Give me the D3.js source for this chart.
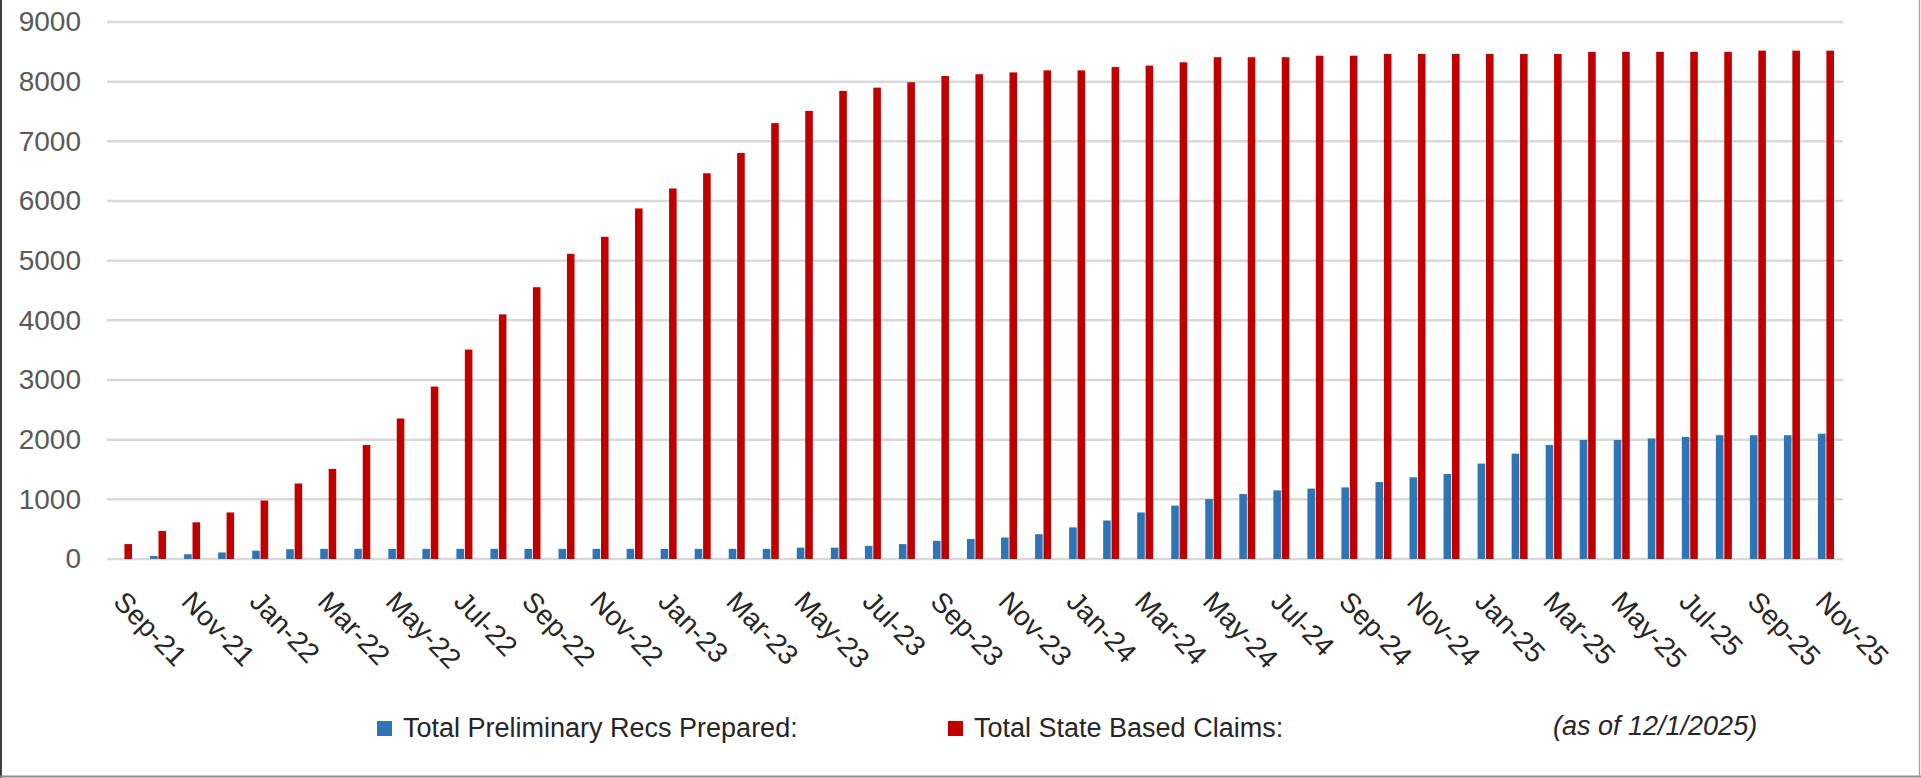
<!DOCTYPE html>
<html>
<head>
<meta charset="utf-8">
<script src="https://cdn.jsdelivr.net/npm/d3@7"></script>
<style>
  body { margin: 0; background: #fff; }
  svg { display: block; }
  .ylab text { fill: #595959; }
  .xlab text { fill: #262626; }
  text { font-family: "Liberation Sans", Arial, sans-serif; }
</style>
</head>
<body>
<div id="vis"></div>
<script>
const FRAME_WIDTH = 1921;
const FRAME_HEIGHT = 778;
const MARGINS = {left: 107, right: 78, top: 22, bottom: 219};

const months = ["Sep-21","Oct-21","Nov-21","Dec-21",
  "Jan-22","Feb-22","Mar-22","Apr-22","May-22","Jun-22","Jul-22","Aug-22","Sep-22","Oct-22","Nov-22","Dec-22",
  "Jan-23","Feb-23","Mar-23","Apr-23","May-23","Jun-23","Jul-23","Aug-23","Sep-23","Oct-23","Nov-23","Dec-23",
  "Jan-24","Feb-24","Mar-24","Apr-24","May-24","Jun-24","Jul-24","Aug-24","Sep-24","Oct-24","Nov-24","Dec-24",
  "Jan-25","Feb-25","Mar-25","Apr-25","May-25","Jun-25","Jul-25","Aug-25","Sep-25","Oct-25","Nov-25"];

// Total Preliminary Recs Prepared
const recs = [0, 50, 80, 110, 140, 165, 170, 170, 170, 170,
  170, 170, 170, 170, 170, 170, 170, 170, 170, 170,
  190, 190, 220, 250, 305, 335, 360, 415, 530, 645,
  780, 895, 1005, 1090, 1150, 1180, 1200, 1290, 1370, 1425,
  1600, 1765, 1910, 1995, 1995, 2020, 2045, 2075, 2075, 2075, 2100];

// Total State Based Claims
const claims = [250, 470, 615, 780, 980, 1265, 1510, 1910, 2355, 2890,
  3510, 4100, 4555, 5115, 5400, 5875, 6210, 6465, 6805, 7305,
  7510, 7845, 7900, 7990, 8095, 8125, 8155, 8190, 8190, 8245,
  8270, 8325, 8410, 8410, 8410, 8435, 8435, 8465, 8465, 8465,
  8465, 8465, 8465, 8500, 8500, 8500, 8500, 8500, 8520, 8520, 8520];

const tickLabels = ["Sep-21","Nov-21","Jan-22","Mar-22","May-22","Jul-22","Sep-22","Nov-22",
  "Jan-23","Mar-23","May-23","Jul-23","Sep-23","Nov-23","Jan-24","Mar-24","May-24","Jul-24",
  "Sep-24","Nov-24","Jan-25","Mar-25","May-25","Jul-25","Sep-25","Nov-25"];
const yTicks = [0, 1000, 2000, 3000, 4000, 5000, 6000, 7000, 8000, 9000];

const seriesNames = ["Total Preliminary Recs Prepared:", "Total State Based Claims:"];
const seriesColors = ["#2E75B6", "#C00000"];
const note = "(as of 12/1/2025)";

const VIS_WIDTH = FRAME_WIDTH - MARGINS.left - MARGINS.right;
const VIS_HEIGHT = FRAME_HEIGHT - MARGINS.top - MARGINS.bottom;

const rows = months.map((m, i) => ({month: m, values: [recs[i], claims[i]]}));

const FRAME = d3.select("#vis")
  .append("svg")
    .attr("width", FRAME_WIDTH)
    .attr("height", FRAME_HEIGHT);

// outer frame lines
FRAME.append("line").attr("x1", 1).attr("x2", 1).attr("y1", 0).attr("y2", FRAME_HEIGHT)
  .attr("stroke", "#404040").attr("stroke-width", 2);
FRAME.append("line").attr("x1", 0).attr("x2", FRAME_WIDTH).attr("y1", 776.5).attr("y2", 776.5)
  .attr("stroke", "#8c8c8c").attr("stroke-width", 2);
FRAME.append("line").attr("x1", 1919.5).attr("x2", 1919.5).attr("y1", 0).attr("y2", FRAME_HEIGHT)
  .attr("stroke", "#a6a6a6").attr("stroke-width", 1.5);

const X_SCALE = d3.scaleBand()
  .domain(months)
  .range([0, VIS_WIDTH])
  .paddingInner(0.53)
  .paddingOuter(0.265);

const X_INNER = d3.scaleBand()
  .domain([0, 1])
  .range([0, X_SCALE.bandwidth()])
  .paddingInner(0.1);

const Y_SCALE = d3.scaleLinear()
  .domain([0, 9000])
  .range([VIS_HEIGHT, 0]);

const G = FRAME.append("g")
  .attr("transform", "translate(" + MARGINS.left + "," + MARGINS.top + ")");

// gridlines
G.append("g")
  .selectAll("line")
  .data(yTicks)
  .enter()
  .append("line")
    .attr("x1", 0)
    .attr("x2", VIS_WIDTH)
    .attr("y1", (d) => Y_SCALE(d))
    .attr("y2", (d) => Y_SCALE(d))
    .attr("stroke", "#d9d9d9")
    .attr("stroke-width", 2.5);

// y axis labels
G.append("g")
  .attr("class", "ylab")
  .call(d3.axisLeft(Y_SCALE).tickValues(yTicks).tickSize(0).tickPadding(26).tickFormat(d3.format("d")))
  .call((g) => g.select(".domain").remove())
  .selectAll("text")
    .attr("font-size", "28px")
    .attr("font-family", null);

// bars
G.append("g")
  .selectAll("g")
  .data(rows)
  .enter()
  .append("g")
    .attr("transform", (d) => "translate(" + X_SCALE(d.month) + ",0)")
  .selectAll("rect")
  .data((d) => d.values.map((v, k) => ({k: k, v: v})))
  .enter()
  .append("rect")
    .attr("x", (d) => X_INNER(d.k))
    .attr("width", X_INNER.bandwidth())
    .attr("y", (d) => Y_SCALE(d.v))
    .attr("height", (d) => VIS_HEIGHT - Y_SCALE(d.v))
    .attr("fill", (d) => seriesColors[d.k]);

// x axis labels
const xAxis = G.append("g")
  .attr("class", "xlab")
  .attr("transform", "translate(0," + VIS_HEIGHT + ")")
  .call(d3.axisBottom(X_SCALE).tickValues(tickLabels).tickSize(0).tickPadding(0));
xAxis.select(".domain").remove();
xAxis.selectAll("text")
  .attr("font-size", "28px")
  .attr("font-family", null)
  .attr("text-anchor", "start")
  .attr("dy", null)
  .attr("transform", "translate(-12,44) rotate(46)");

// legend
const legend = FRAME.append("g");
const legendX = [377, 948];
seriesNames.forEach((name, k) => {
  legend.append("rect")
    .attr("x", legendX[k]).attr("y", 721)
    .attr("width", 15).attr("height", 15)
    .attr("fill", seriesColors[k]);
  legend.append("text")
    .attr("x", legendX[k] + 26).attr("y", 737)
    .attr("font-size", "27px")
    .attr("fill", "#262626")
    .text(name);
});
legend.append("text")
  .attr("x", 1553).attr("y", 735)
  .attr("font-size", "27px")
  .attr("font-style", "italic")
  .attr("fill", "#262626")
  .text(note);
</script>
</body>
</html>
